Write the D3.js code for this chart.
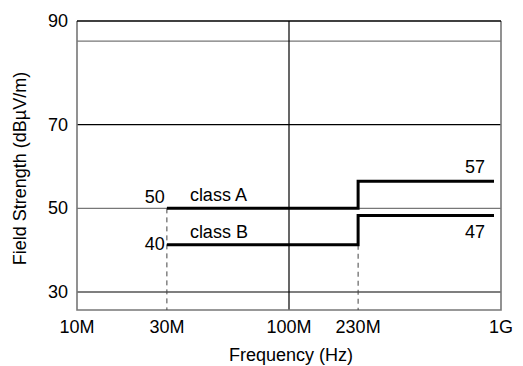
<!DOCTYPE html>
<html>
<head>
<meta charset="utf-8">
<script src="https://cdn.jsdelivr.net/npm/d3@7.9.0/dist/d3.min.js"></script>
<style>
  body { margin: 0; background: #fff; }
  text { font-family: "Liberation Sans", Arial, sans-serif; font-size: 18px; fill: #000; }
</style>
</head>
<body>
<svg id="chart" width="523" height="366"></svg>
<script>
// frequency ticks (Hz) and their labels
const freqTicks  = [1e7, 3e7, 1e8, 2.3e8, 1e9];
const freqLabels = ['10M', '30M', '100M', '230M', '1G'];
// the source axis is not a true log axis: where each tick sits, as a fraction of the width
const freqFrac   = [0, 0.212, 0.5, 0.663, 1];

const levelTicks = [30, 50, 70, 90];

// limit lines: breakpoints and drawn levels
const limitFreq  = [3e7, 2.3e8, 1e9];
const classA     = [50, 56.5];
const classB     = [41.3, 48.3];
const classALbl  = ['50', '57'];
const classBLbl  = ['40', '47'];

const svg = d3.select('#chart');
const m = { l: 77, r: 501, t: 21, b: 310 };

const x = d3.scaleLog()
  .domain(freqTicks)
  .range(freqFrac.map(f => m.l + f * (m.r - m.l)));
const y = d3.scaleLinear().domain([25.7, 94.8]).range([m.b, m.t]);

// grid lines
const gridCol = { 30: '#000', 50: '#777', 70: '#000', 90: '#777' };
svg.selectAll('.hgrid').data(levelTicks).enter().append('line')
  .attr('x1', m.l).attr('x2', m.r)
  .attr('y1', d => y(d)).attr('y2', d => y(d))
  .attr('stroke', d => gridCol[d]).attr('stroke-width', 1.2);

svg.append('line')
  .attr('x1', x(1e8)).attr('x2', x(1e8)).attr('y1', m.t).attr('y2', m.b)
  .attr('stroke', '#000').attr('stroke-width', 1.2);

// frame
svg.append('path')
  .attr('d', `M${m.l},${m.t}V${m.b}H${m.r}V${m.t}`)
  .attr('fill', 'none').attr('stroke', '#777').attr('stroke-width', 1.6);
svg.append('line')
  .attr('x1', m.l).attr('x2', m.r).attr('y1', m.t).attr('y2', m.t)
  .attr('stroke', '#000').attr('stroke-width', 1.5);

// dashed drop lines
svg.append('line')
  .attr('x1', x(limitFreq[0])).attr('x2', x(limitFreq[0]))
  .attr('y1', y(classA[0])).attr('y2', m.b)
  .attr('stroke', '#444').attr('stroke-dasharray', '5,4');
svg.append('line')
  .attr('x1', x(limitFreq[1])).attr('x2', x(limitFreq[1]))
  .attr('y1', y(classB[0])).attr('y2', m.b)
  .attr('stroke', '#444').attr('stroke-dasharray', '5,4');

// step lines
const endX = x(limitFreq[2]) - 7;
function stepPath(v){
  return `M${x(limitFreq[0])},${y(v[0])}H${x(limitFreq[1])}V${y(v[1])}H${endX}`;
}
[classA, classB].forEach(v => {
  svg.append('path').attr('d', stepPath(v))
    .attr('fill', 'none').attr('stroke', '#000').attr('stroke-width', 3);
});

// line labels
svg.append('text').attr('x', x(limitFreq[0]) - 2).attr('y', y(classA[0]) - 5)
  .attr('text-anchor', 'end').text(classALbl[0]);
svg.append('text').attr('x', x(limitFreq[0]) - 2).attr('y', y(classB[0]) + 5)
  .attr('text-anchor', 'end').text(classBLbl[0]);
svg.append('text').attr('x', x(limitFreq[0]) + 23).attr('y', y(classA[0]) - 7).text('class A');
svg.append('text').attr('x', x(limitFreq[0]) + 23).attr('y', y(classB[0]) - 7).text('class B');
svg.append('text').attr('x', endX - 9).attr('y', y(classA[1]) - 8)
  .attr('text-anchor', 'end').text(classALbl[1]);
svg.append('text').attr('x', endX - 9).attr('y', y(classB[1]) + 23)
  .attr('text-anchor', 'end').text(classBLbl[1]);

// axis tick labels
svg.selectAll('.xt').data(freqTicks).enter().append('text')
  .attr('x', d => x(d)).attr('y', 333).attr('text-anchor', 'middle')
  .text((d, i) => freqLabels[i]);
svg.selectAll('.yt').data(levelTicks).enter().append('text')
  .attr('x', 68).attr('y', d => (d === 90 ? m.t : y(d)) + 6).attr('text-anchor', 'end')
  .text(d => d);

// axis titles
svg.append('text').attr('x', (m.l + m.r) / 2 + 2).attr('y', 361)
  .attr('text-anchor', 'middle').text('Frequency (Hz)');
svg.append('text')
  .attr('transform', `translate(26,${(m.t + m.b) / 2 + 3}) rotate(-90)`)
  .attr('text-anchor', 'middle').text('Field Strength (dBµV/m)');
</script>
</body>
</html>
